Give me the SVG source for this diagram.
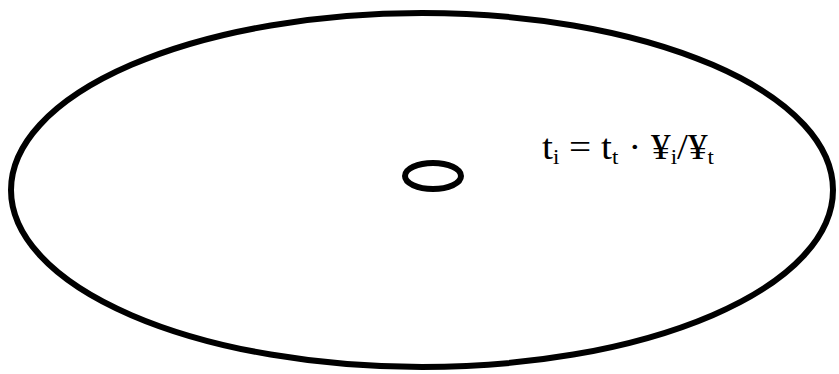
<svg xmlns="http://www.w3.org/2000/svg" width="839" height="374" viewBox="0 0 839 374">
<style>
.ring{fill:none;stroke:#000;stroke-width:6}
.lbl{font-family:"Liberation Serif","Times New Roman",serif;font-size:36px;fill:#000}
.sub{font-size:21px}
</style>
<rect width="839" height="374" fill="#fff"/>
<g id="outer"><ellipse class="ring" cx="422" cy="190" rx="411" ry="177"/></g>
<g id="inner"><ellipse class="ring" cx="433" cy="176" rx="28" ry="13"/></g>
<g id="connectors"></g>
<g id="label"><text class="lbl" x="542" y="159" textLength="172" lengthAdjust="spacingAndGlyphs">t<tspan class="sub" dy="5">i</tspan><tspan dy="-5"> = t</tspan><tspan class="sub" dy="5">t</tspan><tspan dy="-5"> · ¥</tspan><tspan class="sub" dy="5">i</tspan><tspan dy="-5">/¥</tspan><tspan class="sub" dy="5">t</tspan></text></g>
</svg>
